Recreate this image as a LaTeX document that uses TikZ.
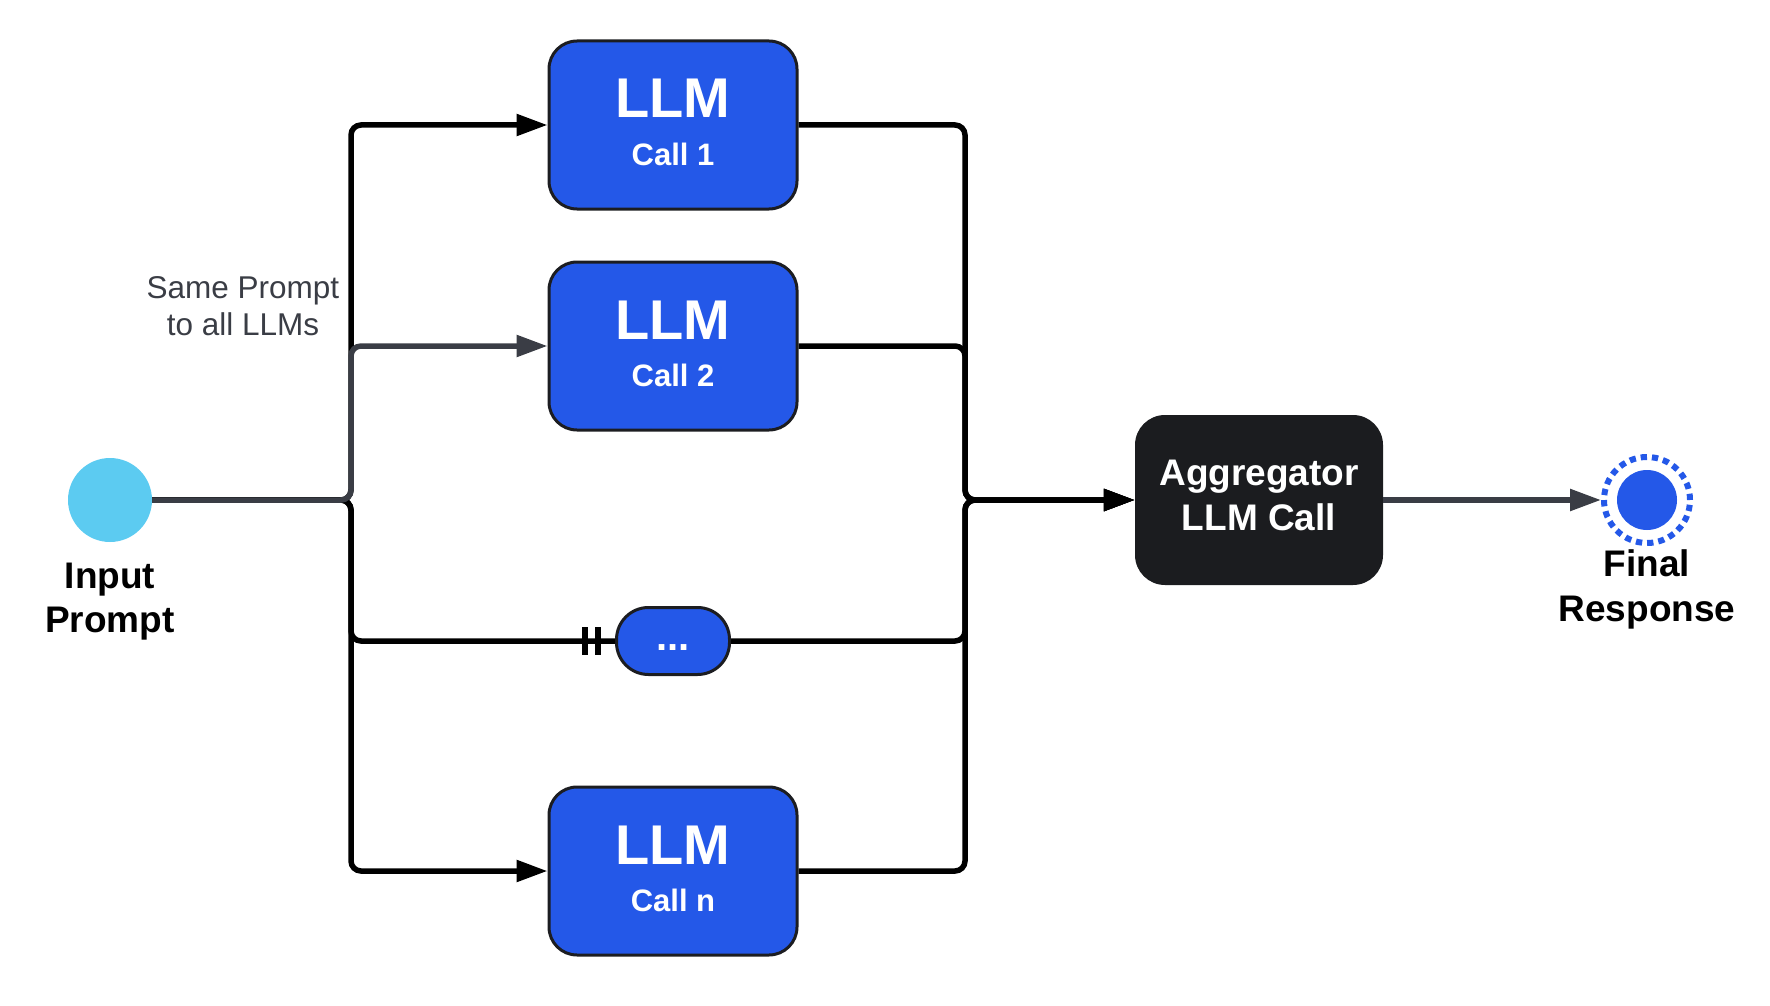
\documentclass[tikz,border=0pt]{standalone}
\usepackage{fontspec}
\setmainfont{Liberation Sans}
\usetikzlibrary{arrows.meta,calc}
\definecolor{llmblue}{RGB}{36,88,232}
\definecolor{incyan}{RGB}{92,203,241}
\definecolor{slate}{RGB}{58,61,69}
\definecolor{aggblack}{RGB}{27,28,31}
\definecolor{edgedark}{RGB}{28,29,33}
\begin{document}
\begin{tikzpicture}[x=1pt,y=-1pt,
  llmbox/.style={draw=edgedark, line width=3pt, fill=llmblue, rounded corners=28pt, minimum width=248pt, minimum height=168pt, inner sep=0pt},
  pillbox/.style={draw=edgedark, line width=3pt, fill=llmblue, rounded corners=32pt, minimum width=113pt, minimum height=67pt, inner sep=0pt},
  aggbox/.style={fill=aggblack, rounded corners=30pt, minimum width=248pt, minimum height=170pt, inner sep=0pt},
  bigtxt/.style={anchor=base, text=white, font=\fontsize{56pt}{60pt}\selectfont\bfseries, inner sep=0pt},
  calltxt/.style={anchor=base, text=white, font=\fontsize{31pt}{35pt}\selectfont\bfseries, inner sep=0pt},
  aggtxt/.style={anchor=base, text=white, font=\fontsize{37pt}{41pt}\selectfont\bfseries, inner sep=0pt},
  endtxt/.style={anchor=base, text=black, font=\fontsize{37pt}{41pt}\selectfont\bfseries, inner sep=0pt},
  notetxt/.style={anchor=base, text=slate, font=\fontsize{31.5pt}{35pt}\selectfont, inner sep=0pt},
  wire/.style={draw=black, line width=5.5pt, rounded corners=10pt},
  graywire/.style={wire, draw=slate},
  tip/.style={-{Triangle[length=31pt,width=21pt]}},
  barmark/.style={draw=black, line width=6pt},
]
\useasboundingbox (0,0) rectangle (1770,1006);

% nodes
\node[circle, fill=incyan, minimum size=84pt, inner sep=0pt] (in) at (110,500) {};
\node[llmbox] (llm1) at (673,125) {};
\node[llmbox] (llm2) at (673,346) {};
\node[pillbox] (dots) at (673,641) {};
\node[llmbox] (llmn) at (673,871) {};
\node[aggbox] (agg) at (1259,500) {};
\node[circle, draw=llmblue, line width=6pt, dash pattern=on 6.3pt off 4.96pt, minimum size=86pt, inner sep=0pt] (fin) at (1647,500) {};
\node[circle, fill=llmblue, minimum size=60pt, inner sep=0pt] (fincore) at (fin.center) {};

\coordinate (busL) at (351,500);
\coordinate (busR) at (965,500);

% connectors, left
\draw[wire,tip] (in.east) -- (busL) |- (llm1.west);
\draw[wire,tip] (in.east) -- (busL) |- (llmn.west);
\draw[wire] (in.east) -- (busL) |- (dots.west);
\draw[graywire,tip] (in.east) -- (busL) |- (llm2.west);
\draw[barmark] ($(dots.west)+(-17,-14)$) -- ++(0,28);
\draw[barmark] ($(dots.west)+(-30,-14)$) -- ++(0,28);

% connectors, right
\draw[wire,tip] (llm1.east) -| (busR) -- (agg.west);
\draw[wire,tip] (llm2.east) -| (busR) -- (agg.west);
\draw[wire,tip] (dots.east) -| (busR) -- (agg.west);
\draw[wire,tip] (llmn.east) -| (busR) -- (agg.west);
\draw[graywire,tip] (agg.east) -- (fin.west);

% texts
\node[bigtxt] (t1a) at (673,118) {LLM};
\node[calltxt] (t1b) at (673,165) {Call 1};
\node[bigtxt] (t2a) at (673,339) {LLM};
\node[calltxt] (t2b) at (673,386) {Call 2};
\node[bigtxt] (tna) at (673,864) {LLM};
\node[calltxt] (tnb) at (673,911) {Call n};
\node[anchor=base, text=white, font=\fontsize{40pt}{44pt}\selectfont\bfseries, inner sep=0pt] (tdots) at (673,650) {...};
\node[aggtxt] (ta1) at (1259,485) {Aggregator};
\node[aggtxt] (ta2) at (1259,530) {LLM Call};
\node[endtxt] (ti1) at (110,588) {Input};
\node[endtxt] (ti2) at (110,632) {Prompt};
\node[endtxt] (tf1) at (1647,576) {Final};
\node[endtxt] (tf2) at (1647,621) {Response};
\node[notetxt] (ts1) at (243,298) {Same Prompt};
\node[notetxt] (ts2) at (243,335) {to all LLMs};
\end{tikzpicture}
\end{document}
